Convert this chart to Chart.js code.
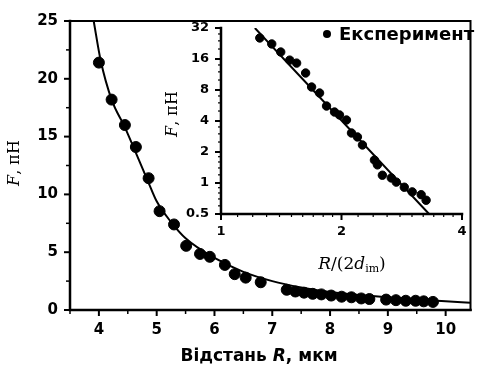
<!DOCTYPE html>
<html lang="uk">
<head>
<meta charset="UTF-8">
<title>F(R)</title>
<script src="https://cdn.jsdelivr.net/npm/chart.js"></script>
<style>
  body { margin: 0; background: #fff; }
  #wrap { position: relative; width: 477px; height: 370px; }
  canvas { position: absolute; left: 0; top: 0; }
</style>
</head>
<body>
<div id="wrap">
  <canvas id="mainChart" width="477" height="370"></canvas>
  <canvas id="insetChart" width="477" height="370"></canvas>
</div>
<script>
// main panel: measured force vs distance (мкм, пН)
const expR = [4.0, 4.22, 4.45, 4.64, 4.86, 5.05, 5.30, 5.51, 5.75, 5.92, 6.18, 6.35, 6.54, 6.80,
              7.25, 7.40, 7.55, 7.70, 7.85, 8.02, 8.20, 8.37, 8.54, 8.68, 8.97, 9.14, 9.31, 9.48, 9.62, 9.78];
const expF = [21.4, 18.2, 16.0, 14.1, 11.4, 8.55, 7.4, 5.55, 4.85, 4.6, 3.9, 3.1, 2.8, 2.4,
              1.75, 1.6, 1.5, 1.4, 1.35, 1.25, 1.15, 1.1, 1.0, 0.95, 0.9, 0.85, 0.8, 0.8, 0.75, 0.7];

// fitted curve
const fitR = [3.91, 4.03, 4.22, 4.45, 4.64, 4.86, 5.0, 5.25, 5.5, 6.0, 6.5, 7.0, 7.5, 8.0, 8.5, 9.0, 9.5, 10.0, 10.43];
const fitF = [25, 21.6, 18.2, 15.8, 13.6, 11.0, 9.4, 7.6, 6.2, 4.5, 3.3, 2.5, 1.95, 1.55, 1.3, 1.1, 0.9, 0.75, 0.62];

// inset: same data on log-log axes, R/(2d_im)
const insetX = [1.250, 1.339, 1.410, 1.485, 1.545, 1.627, 1.684, 1.763, 1.835, 1.921, 1.977, 2.058,
                2.118, 2.192, 2.256, 2.417, 2.459, 2.530, 2.663, 2.741, 2.870, 3.004, 3.163, 3.254];
const insetF = [25.6, 22.4, 18.7, 15.6, 14.6, 11.7, 8.55, 7.48, 5.59, 4.89, 4.58, 4.09,
                3.06, 2.80, 2.34, 1.67, 1.50, 1.19, 1.12, 1.02, 0.91, 0.82, 0.77, 0.68];
const insetFitX = [1.215, 3.31];
const insetFitF = [32, 0.5];

// ticks
const mainXTicks = [4, 5, 6, 7, 8, 9, 10];
const mainXMinor = [3.5, 4.5, 5.5, 6.5, 7.5, 8.5, 9.5];
const mainYTicks = [0, 5, 10, 15, 20, 25];
const mainYMinor = [2.5, 7.5, 12.5, 17.5, 22.5];
const insetXTicks = [1, 2, 4];
const insetXMinor = [1.1, 1.2, 1.3, 1.4, 1.5, 1.6, 1.7, 1.8, 1.9, 2.2, 2.4, 2.6, 2.8, 3.0, 3.2, 3.4, 3.6, 3.8];
const insetYTicks = [0.5, 1, 2, 4, 8, 16, 32];
const insetYMinor = [0.6, 0.7, 0.8, 0.9, 1.2, 1.4, 1.6, 1.8, 2.5, 3, 3.5, 5, 6, 7, 10, 12, 14, 20, 24, 28];

const legendLabel = 'Експеримент';

const pts = (xs, ys) => xs.map((x, i) => ({ x, y: ys[i] }));

// draws text made of runs with different fonts, centred on (x, y)
function drawRuns(ctx, runs, x, y, rot) {
  ctx.save();
  ctx.translate(x, y);
  if (rot) ctx.rotate(rot);
  ctx.fillStyle = '#000';
  ctx.textBaseline = 'middle';
  let w = 0;
  for (const r of runs) { ctx.font = r.font; w += ctx.measureText(r.t).width; }
  let cx = -w / 2;
  for (const r of runs) {
    ctx.font = r.font;
    ctx.fillText(r.t, cx, r.dy || 0);
    cx += ctx.measureText(r.t).width;
  }
  ctx.restore();
}

// axis lines, frame and tick marks
const axesPlugin = {
  id: 'axesPlugin',
  afterDraw(chart, args, opts) {
    const ctx = chart.ctx, a = chart.chartArea;
    ctx.save();
    ctx.strokeStyle = '#000';
    ctx.lineCap = 'square';
    ctx.lineWidth = 2.5;
    ctx.beginPath();
    ctx.moveTo(a.left, a.top); ctx.lineTo(a.left, a.bottom); ctx.lineTo(a.right, a.bottom);
    ctx.stroke();
    if (opts.frame) {
      ctx.lineWidth = 2;
      ctx.beginPath();
      ctx.moveTo(a.left, a.top); ctx.lineTo(a.right, a.top); ctx.lineTo(a.right, a.bottom);
      ctx.stroke();
    }
    ctx.lineCap = 'butt';
    for (const [id, list, len, w] of opts.marks) {
      const s = chart.scales[id];
      ctx.lineWidth = w;
      for (const v of list) {
        const p = s.getPixelForValue(v);
        ctx.beginPath();
        if (s.isHorizontal()) { ctx.moveTo(p, a.bottom); ctx.lineTo(p, a.bottom + len); }
        else { ctx.moveTo(a.left, p); ctx.lineTo(a.left - len, p); }
        ctx.stroke();
      }
    }
    ctx.restore();
    for (const t of opts.titles) drawRuns(ctx, t.runs, t.x, t.y, t.rot);
    if (opts.legend) {
      const L = opts.legend;
      ctx.save();
      ctx.fillStyle = '#000';
      ctx.beginPath(); ctx.arc(L.x, L.y, 4, 0, Math.PI * 2); ctx.fill();
      ctx.font = 'bold 18px "DejaVu Sans"';
      ctx.textBaseline = 'middle';
      ctx.fillText(L.text, L.x + 12, L.y + 1);
      ctx.restore();
    }
  }
};

const serif = '"DejaVu Serif"';
const sans = '"DejaVu Sans"';
const yTitleRuns = [
  { t: 'F', font: 'italic 16px ' + serif },
  { t: ', пН', font: '16px ' + serif }
];

new Chart(document.getElementById('mainChart'), {
  type: 'scatter',
  data: {
    datasets: [
      { data: pts(fitR, fitF), showLine: true, borderColor: '#000', borderWidth: 2,
        pointRadius: 0, cubicInterpolationMode: 'monotone' },
      { data: pts(expR, expF), backgroundColor: '#000', borderColor: '#000', pointRadius: 5.5 }
    ]
  },
  options: {
    responsive: false,
    animation: false,
    layout: { padding: { left: 0, top: 18, right: 4, bottom: 0 } },
    plugins: {
      legend: { display: false },
      tooltip: { enabled: false },
      axesPlugin: {
        frame: true,
        marks: [['x', mainXTicks, 6, 2], ['x', mainXMinor, 4, 1.5],
                ['y', mainYTicks, 6, 2], ['y', mainYMinor, 4, 1.5]],
        titles: [
          { runs: yTitleRuns, x: 15, y: 163, rot: -Math.PI / 2 },
          { runs: [{ t: 'Відстань ', font: 'bold 17px ' + sans },
                   { t: 'R', font: 'bold italic 17px ' + sans },
                   { t: ', мкм', font: 'bold 17px ' + sans }], x: 259, y: 357 }
        ]
      }
    },
    scales: {
      x: {
        type: 'linear', min: 3.5, max: 10.43,
        afterBuildTicks: s => { s.ticks = mainXTicks.map(v => ({ value: v })); },
        afterFit: s => { s.height = 60; },
        grid: { display: false, drawTicks: false },
        border: { display: false },
        ticks: { color: '#000', padding: 11, maxRotation: 0, font: { family: sans, size: 15, weight: 'bold' } }
      },
      y: {
        type: 'linear', min: 0, max: 25,
        afterBuildTicks: s => { s.ticks = mainYTicks.map(v => ({ value: v })); },
        afterFit: s => { s.width = 70; },
        grid: { display: false, drawTicks: false },
        border: { display: false },
        ticks: { color: '#000', padding: 12, font: { family: sans, size: 15, weight: 'bold' } }
      }
    }
  },
  plugins: [axesPlugin]
});

new Chart(document.getElementById('insetChart'), {
  type: 'scatter',
  data: {
    datasets: [
      { data: pts(insetFitX, insetFitF), showLine: true, borderColor: '#000', borderWidth: 2, pointRadius: 0 },
      { label: legendLabel, data: pts(insetX, insetF), backgroundColor: '#000', borderColor: '#000', pointRadius: 4.2 }
    ]
  },
  options: {
    responsive: false,
    animation: false,
    layout: { padding: { left: 150, top: 28, right: 15, bottom: 116 } },
    plugins: {
      legend: { display: false },
      tooltip: { enabled: false },
      axesPlugin: {
        frame: false,
        marks: [['x', insetXTicks, 6, 2], ['x', insetXMinor, 3, 1.2],
                ['y', insetYTicks, 6, 2], ['y', insetYMinor, 3, 1.2]],
        titles: [
          { runs: yTitleRuns, x: 173, y: 114, rot: -Math.PI / 2 },
          { runs: [{ t: 'R', font: 'italic 17px ' + serif },
                   { t: '/(2', font: '17px ' + serif },
                   { t: 'd', font: 'italic 17px ' + serif },
                   { t: 'im', font: '11px ' + serif, dy: 4 },
                   { t: ')', font: '17px ' + serif }], x: 352, y: 265 }
        ],
        legend: { x: 327, y: 34, text: legendLabel }
      }
    },
    scales: {
      x: {
        type: 'logarithmic', min: 1, max: 4,
        afterBuildTicks: s => { s.ticks = insetXTicks.map(v => ({ value: v })); },
        afterFit: s => { s.height = 40; },
        grid: { display: false, drawTicks: false },
        border: { display: false },
        ticks: { color: '#000', padding: 10, maxRotation: 0, callback: v => String(v),
                 font: { family: sans, size: 13, weight: 'bold' } }
      },
      y: {
        type: 'logarithmic', min: 0.5, max: 32,
        afterBuildTicks: s => { s.ticks = insetYTicks.map(v => ({ value: v })); },
        afterFit: s => { s.width = 71; },
        grid: { display: false, drawTicks: false },
        border: { display: false },
        ticks: { color: '#000', padding: 12, callback: v => String(v),
                 font: { family: sans, size: 13, weight: 'bold' } }
      }
    }
  },
  plugins: [axesPlugin]
});
</script>
</body>
</html>
